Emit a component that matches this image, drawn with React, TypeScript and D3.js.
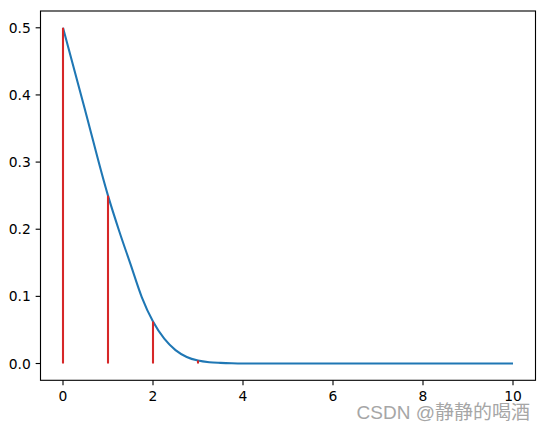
import React from "react";
import * as d3 from "d3";

const curveX = [0, 0.5, 1, 1.25, 1.5, 1.75, 2, 2.25, 2.5, 2.75, 3, 3.25, 3.5, 3.75, 4, 4.5, 5, 6, 7, 8, 9, 10];
const curveY = [0.5, 0.375, 0.25, 0.197, 0.148, 0.099, 0.0625, 0.037, 0.02, 0.0098, 0.0045, 0.002, 0.001, 0.0004, 0.0001, 0, 0, 0, 0, 0, 0, 0];
const stemX = [0, 1, 2, 3];
const stemY = [0.5, 0.25, 0.0625, 0.0045];
const xTicks = [0, 2, 4, 6, 8, 10];
const yTicks = [0.0, 0.1, 0.2, 0.3, 0.4, 0.5];
const watermark = "CSDN @静静的喝酒";

export default function App() {
  const W = 545, H = 431;
  const left = 40.5, right = 535.5, top = 11, bottom = 380.3;
  const x = d3.scaleLinear().domain([-0.5, 10.5]).range([left, right]);
  const y = d3.scaleLinear().domain([-0.025, 0.525]).range([bottom, top]);
  const pts: [number, number][] = curveX.map((v, i) => [v, curveY[i]]);
  const line = d3.line<[number, number]>().x(d => x(d[0])).y(d => y(d[1])).curve(d3.curveMonotoneX);
  const font = "'DejaVu Sans', sans-serif";
  const tl = 4.86;
  return (
    <div style={{ position: "absolute", left: 0, top: 0 }}>
      <svg width={W} height={H} style={{ display: "block", background: "#fff" }}>
        <path d={line(pts) || ""} fill="none" stroke="#1f77b4" strokeWidth={2.08} />
        {stemX.map((v, i) => (
          <line key={i} x1={x(v)} x2={x(v)} y1={y(0)} y2={y(stemY[i])} stroke="#d62728" strokeWidth={2.08} />
        ))}
        <rect x={left} y={top} width={right - left} height={bottom - top} fill="none" stroke="#000" strokeWidth={1.11} />
        {xTicks.map(t => (
          <g key={t}>
            <line x1={x(t)} x2={x(t)} y1={bottom} y2={bottom + tl} stroke="#000" strokeWidth={1.11} />
            <text x={x(t)} y={bottom + tl + 4.86} dy="0.76em" textAnchor="middle" fontFamily={font} fontSize={13.89} fill="#000">{t}</text>
          </g>
        ))}
        {yTicks.map(t => (
          <g key={t}>
            <line x1={left - tl} x2={left} y1={y(t)} y2={y(t)} stroke="#000" strokeWidth={1.11} />
            <text x={left - tl - 4.86} y={y(t)} dy="0.36em" textAnchor="end" fontFamily={font} fontSize={13.89} fill="#000">{t.toFixed(1)}</text>
          </g>
        ))}
        <text x={530} y={419} textAnchor="end" fontFamily="'Liberation Sans', 'Noto Sans CJK SC', sans-serif" fontSize={19} fill="#a6a6a6">{watermark}</text>
      </svg>
    </div>
  );
}
